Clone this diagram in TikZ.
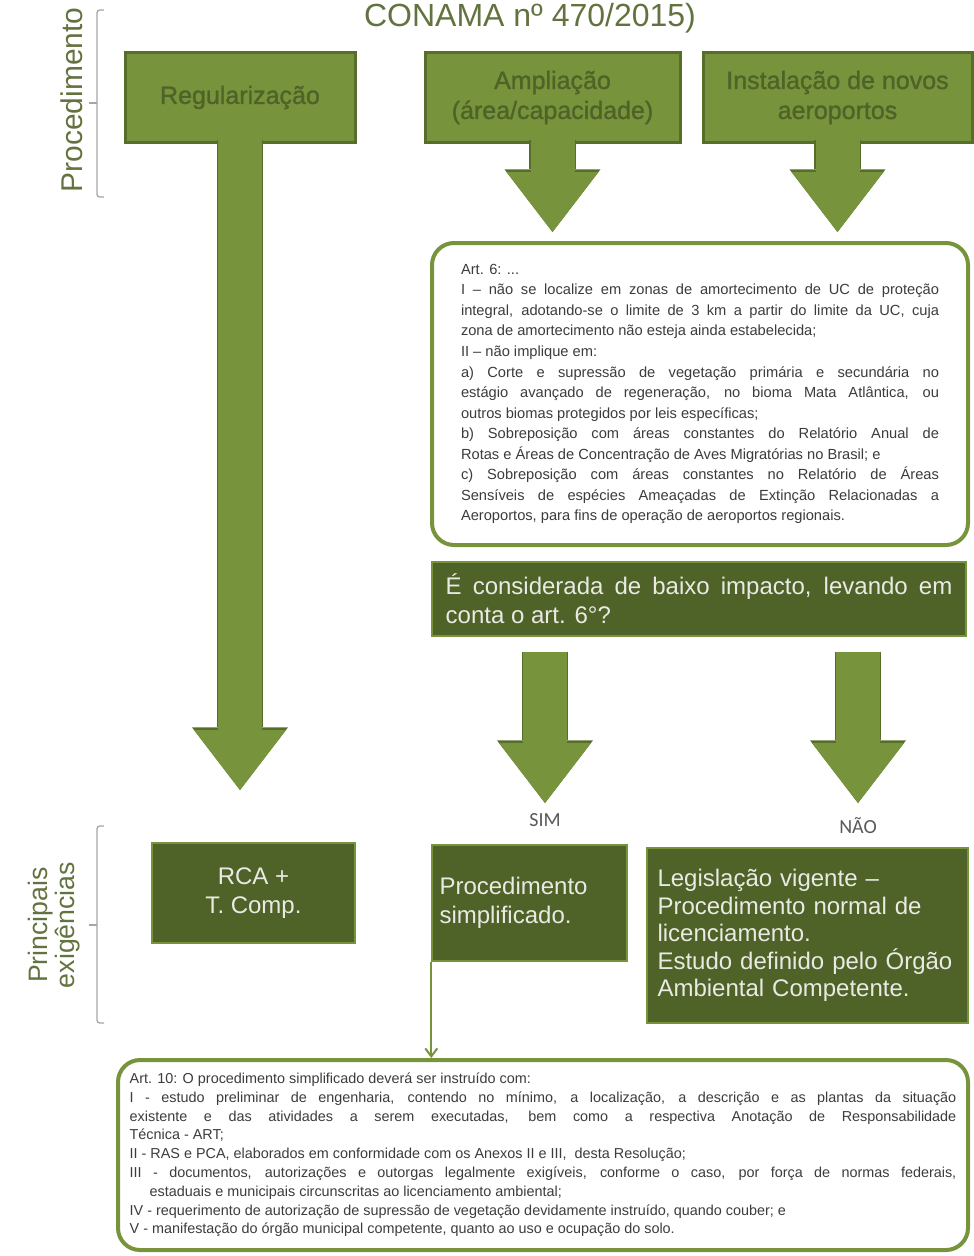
\documentclass[tikz,border=0pt]{standalone}
\usepackage{fontspec}
\setmainfont{Liberation Sans}
\newfontfamily\calfont{Carlito}
\newfontfamily\heavyfont[FakeBold=1.2]{Liberation Sans}
\usetikzlibrary{arrows.meta}

\definecolor{midgreen}{RGB}{119,147,60}
\definecolor{midline}{RGB}{86,110,42}
\definecolor{darkgreen}{RGB}{79,98,40}
\definecolor{paletext}{RGB}{234,234,228}
\definecolor{sidegreen}{RGB}{99,115,64}
\definecolor{bracegray}{RGB}{166,166,166}
\definecolor{arttext}{RGB}{60,60,60}
\definecolor{labelgray}{RGB}{89,89,89}

\newlength\sixw \setlength\sixw{358.5pt}
\newlength\tenw \setlength\tenw{620pt}
\newlength\askw \setlength\askw{380pt}
\newcommand{\jsix}[1]{\makebox[\sixw][s]{#1}}
\newcommand{\jten}[1]{\makebox[\tenw][s]{#1}}
\newcommand{\jask}[1]{\makebox[\askw][s]{#1}}

\tikzset{
  topbox/.style={draw=midline, line width=2.25pt, fill=midgreen, text=darkgreen, minimum height=66.75pt, align=center, inner sep=0pt, font=\heavyfont\fontsize{18.75pt}{22.5pt}\selectfont},
  lowbox/.style={draw=midgreen, line width=1.1pt, fill=darkgreen, text=paletext, font=\fontsize{18pt}{21.75pt}\selectfont},
  artbox/.style={draw=midgreen, line width=3pt, rounded corners=16.5pt, fill=white, text=arttext, align=left, inner sep=0pt},
  fatarrow/.style={draw=midgreen, line width=33pt, shorten <=-2.5pt, -{Triangle[width=69pt,length=45pt,line width=0pt]},
    preaction={draw=midline, line width=35pt, -{Triangle[width=72pt,length=47pt,line width=0pt]}}},
  thinarrow/.style={draw=midgreen, line width=1.5pt, -{Straight Barb[length=6pt,width=9pt]}},
  sidelabel/.style={text=sidegreen, rotate=90, align=center, font=\fontsize{20pt}{20.5pt}\selectfont},
  answer/.style={text=labelgray, font=\calfont\fontsize{15pt}{15pt}\selectfont},
  brace/.style={draw=bracegray, line width=1pt, rounded corners=2pt},
}

\begin{document}
\begin{tikzpicture}[x=0.75pt,y=0.75pt,yscale=-1,xscale=1]
        \path[use as bounding box] (0,0) rectangle (974,1256);

        % Title and side labels
        \node (title) [anchor=base, text=sidegreen, font=\fontsize{24pt}{24pt}\selectfont] at (530,27) {CONAMA nº 470/2015)};
        \node (proclabel) [sidelabel, font=\fontsize{22.5pt}{22.5pt}\selectfont] at (72,100) {Procedimento};
        \node (exiglabel) [sidelabel] at (54,925) {Principais\\exigências};
        \draw [brace] (104,10) -- (97,10) -- (97,197) -- (104,197);
        \draw [brace] (97,103) -- (89,103);
        \draw [brace] (104,826) -- (97,826) -- (97,1023) -- (104,1023);
        \draw [brace] (97,925) -- (89,925);

        % Top row
        \node (reg) [topbox, minimum width=172.5pt] at (240,97.5) {Regularização};
        \node (amp) [topbox, minimum width=191.25pt] at (552.5,97.5) {Ampliação\\(área/capacidade)};
        \node (inst) [topbox, minimum width=201.75pt] at (837.5,97.5) {Instalação de novos\\aeroportos};

        % Art. 6
        \node (art6) [artbox, minimum width=402pt, minimum height=226.5pt, font=\fontsize{11pt}{15.4pt}\selectfont] at (700,394) {Art. 6: ...\\
            \jsix{I – não se localize em zonas de amortecimento de UC de proteção}\\
            \jsix{integral, adotando-se o limite de 3 km a partir do limite da UC, cuja}\\
            zona de amortecimento não esteja ainda estabelecida;\\
            II – não implique em:\\
            \jsix{a) Corte e supressão de vegetação primária e secundária no}\\
            \jsix{estágio avançado de regeneração, no bioma Mata Atlântica, ou}\\
            outros biomas protegidos por leis específicas;\\
            \jsix{b) Sobreposição com áreas constantes do Relatório Anual de}\\
            Rotas e Áreas de Concentração de Aves Migratórias no Brasil; e\\
            \jsix{c) Sobreposição com áreas constantes no Relatório de Áreas}\\
            \jsix{Sensíveis de espécies Ameaçadas de Extinção Relacionadas a}\\
            Aeroportos, para fins de operação de aeroportos regionais.};

        % Question
        \node (ask) [lowbox, minimum width=400.5pt, minimum height=55.5pt, align=left] at (699,599) {\jask{É considerada de baixo impacto, levando em}\\conta o art. 6°?};

        \coordinate (regtip) at (240,790);
        \coordinate (amptip) at (552.5,232);
        \coordinate (insttip) at (837.5,232);
        \coordinate (simtop) at (545,655);
        \coordinate (simtip) at (545,803);
        \coordinate (naotop) at (858,655);
        \coordinate (naotip) at (858,803);

        \draw [fatarrow] (reg.south) -- (regtip);
        \draw [fatarrow] (amp.south) -- (amptip);
        \draw [fatarrow] (inst.south) -- (insttip);
        \draw [fatarrow] (simtop) -- (simtip);
        \draw [fatarrow] (naotop) -- (naotip);

        \node (sim) [answer] at (545,820) {SIM};
        \node (nao) [answer] at (858,826) {NÃO};

        % Bottom row
        \node (rca) [lowbox, minimum width=152.25pt, minimum height=75pt, align=center] at (253.5,893) {RCA +\\T. Comp.};
        \node (simp) [lowbox, minimum height=87pt, text width=135pt, inner xsep=5.6pt, align=left] at (529.5,903) {Procedimento\\simplificado.};
        \node (leg) [lowbox, minimum height=131.25pt, text width=225pt, inner xsep=7.9pt, align=left, font=\fontsize{18pt}{20.6pt}\selectfont] at (807.5,935.5) {Legislação vigente –\\Procedimento normal de\\licenciamento.\\Estudo definido pelo Órgão\\Ambiental Competente.};

        % Art. 10
        \node (art10) [artbox, minimum width=637.5pt, minimum height=142.5pt, font=\fontsize{10.8pt}{14.1pt}\selectfont] at (543,1155) {Art. 10: O procedimento simplificado deverá ser instruído com:\\
            \jten{I - estudo preliminar de engenharia, contendo no mínimo, a localização, a descrição e as plantas da situação}\\
            \jten{existente e das atividades a serem executadas, bem como a respectiva Anotação de Responsabilidade}\\
            Técnica - ART;\\
            II - RAS e PCA, elaborados em conformidade com os Anexos II e III,\ \ desta Resolução;\\
            \jten{III - documentos, autorizações e outorgas legalmente exigíveis, conforme o caso, por força de normas federais,}\\
            \hspace*{15pt}estaduais e municipais circunscritas ao licenciamento ambiental;\\
            IV - requerimento de autorização de supressão de vegetação devidamente instruído, quando couber; e\\
            V - manifestação do órgão municipal competente, quanto ao uso e ocupação do solo.};

        \draw [thinarrow] (simp.south west) -- (simp.south west |- art10.north);

    \end{tikzpicture}
\end{document}
